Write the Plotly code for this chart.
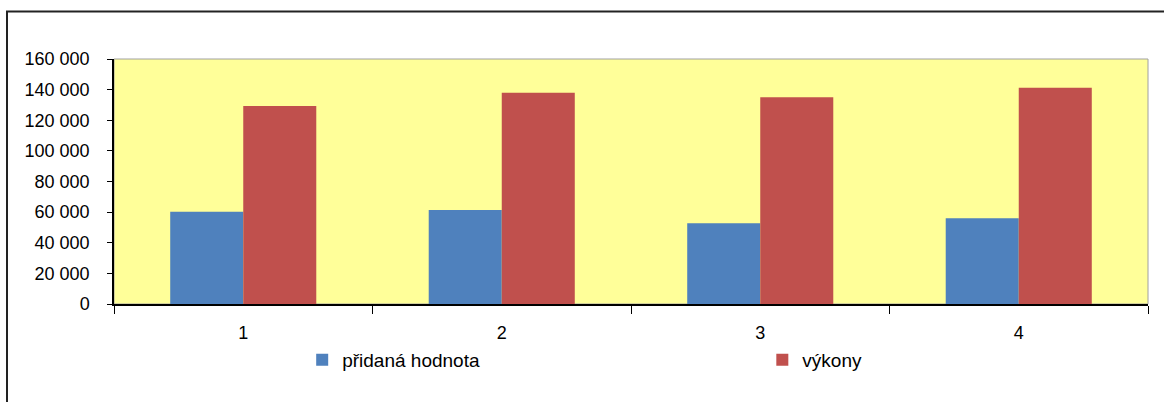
import plotly.graph_objects as go

categories = ["1", "2", "3", "4"]
pridana_hodnota = [60300, 61400, 52700, 56000]
vykony = [129300, 138000, 135000, 141300]
y_ticks = [0, 20000, 40000, 60000, 80000, 100000, 120000, 140000, 160000]

FONT = "Liberation Sans, Arial, sans-serif"

fig = go.Figure()
fig.add_trace(go.Bar(x=categories, y=pridana_hodnota, name="přidaná hodnota",
                     marker=dict(color="#4F81BD", line=dict(width=0)),
                     legend="legend"))
fig.add_trace(go.Bar(x=categories, y=vykony, name="výkony",
                     marker=dict(color="#C0504D", line=dict(width=0)),
                     legend="legend2"))

legend_common = dict(orientation="h", xanchor="left", y=-0.228, yanchor="middle",
                     font=dict(family=FONT, size=19, color="#000000"),
                     bgcolor="rgba(0,0,0,0)", itemwidth=30)

fig.update_layout(
    width=1164, height=402,
    margin=dict(l=114, r=16, t=59, b=98),
    paper_bgcolor="white",
    plot_bgcolor="#FFFF99",
    barmode="group",
    bargap=0.435,
    bargroupgap=0,
    separators=", ",
    font=dict(family=FONT, size=18, color="#000000"),
    showlegend=True,
    legend=dict(x=0.182, **legend_common),
    legend2=dict(x=0.627, **legend_common),
    xaxis=dict(type="category", tickson="boundaries", ticks="outside", ticklen=8,
               tickcolor="#000000", showline=True, linecolor="#000000", linewidth=1.5,
               showgrid=False, zeroline=False, tickfont=dict(size=18),
               ticklabelstandoff=12),
    yaxis=dict(range=[0, 160000], tickvals=y_ticks, tickformat=",d",
               ticks="outside", ticklen=5, tickcolor="#000000",
               showline=True, linecolor="#000000", linewidth=1.5,
               showgrid=False, zeroline=False, tickfont=dict(size=18),
               ticklabelstandoff=14),
    shapes=[
        # light frame around the plotting area (top and right edges)
        dict(type="rect", xref="paper", yref="paper", x0=0, x1=1, y0=0, y1=1,
             line=dict(color="#A0A0A0", width=1), layer="below"),
        # outer chart border
        dict(type="rect", xref="paper", yref="paper",
             x0=(7 - 114) / 1034, x1=1.2, y0=-0.6, y1=(304 - 11.5) / 245,
             line=dict(color="#222222", width=2)),
    ],
)

fig.write_html("out.html")
